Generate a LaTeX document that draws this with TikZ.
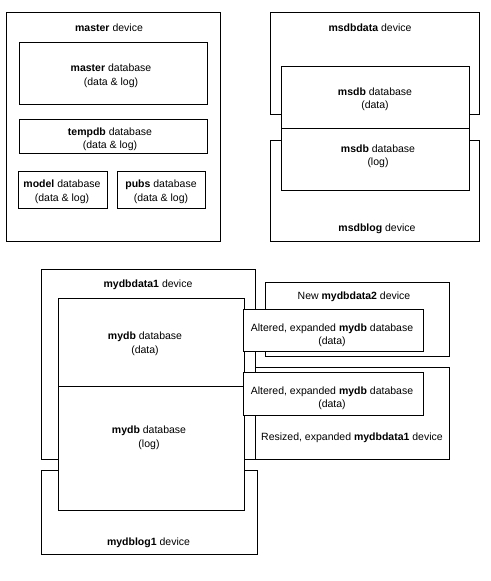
\documentclass[tikz,border=0pt]{standalone}
\usepackage{fontspec}
\setmainfont{Liberation Sans}
\begin{document}
\begin{tikzpicture}[x=1pt,y=-1pt,
  box/.style={draw=black,line width=1pt},
  wbox/.style={draw=black,fill=white,line width=1pt},
  lbl/.style={inner sep=0pt,align=center,font=\fontsize{10.5}{13.5}\selectfont,yshift=-2pt}]
\path[use as bounding box,fill=white] (0,0) rectangle (490,581);
% top left
\draw[box] (6,12) rectangle (220,241);
\draw[box] (19,42) rectangle (207,104);
\draw[box] (19,119) rectangle (207,153);
\draw[box] (18,171) rectangle (107,208);
\draw[box] (117,171) rectangle (205,208);
\node[lbl] (masterdev) at (109,26) {\textbf{master} device};
\node[lbl] (masterdb) at (111,74) {\textbf{master} database\\(data \& log)};
\node[lbl] (tempdb) at (110,137.5) {\textbf{tempdb} database\\(data \& log)};
\node[lbl] (model) at (62,190) {\textbf{model} database\\(data \& log)};
\node[lbl] (pubs) at (161,190) {\textbf{pubs} database\\(data \& log)};
% top right
\draw[box] (270,12) rectangle (479,114);
\draw[box] (270,140) rectangle (479,241);
\draw[wbox] (281,66) rectangle (469,128);
\draw[wbox] (281,128) rectangle (469,190);
\node[lbl] (msdbdatadev) at (370,26) {\textbf{msdbdata} device};
\node[lbl] (msdbdata) at (375,97.5) {\textbf{msdb} database\\(data)};
\node[lbl] (msdblog) at (378,154.5) {\textbf{msdb} database\\(log)};
\node[lbl] (msdblogdev) at (377,227) {\textbf{msdblog} device};
% bottom
\draw[box] (41,269) rectangle (255,459);
\draw[box] (41,470) rectangle (257,554);
\draw[box] (265,282) rectangle (449,356);
\draw[box] (255,367) rectangle (449,459);
\draw[wbox] (58,298) rectangle (244,386);
\draw[wbox] (58,386) rectangle (244,510);
\draw[wbox] (243,309) rectangle (423,351);
\draw[wbox] (243,372) rectangle (423,415);
\node[lbl] (mydbdata1dev) at (148,283) {\textbf{mydbdata1} device};
\node[lbl] (mydbdata) at (145,342) {\textbf{mydb} database\\(data)};
\node[lbl] (mydblog) at (149,436) {\textbf{mydb} database\\(log)};
\node[lbl] (mydblog1dev) at (148.5,541) {\textbf{mydblog1} device};
\node[lbl] (mydbdata2dev) at (354,295) {New \textbf{mydbdata2} device};
\node[lbl] (alt1) at (332,333.5) {Altered, expanded \textbf{mydb} database\\(data)};
\node[lbl] (alt2) at (332,396.5) {Altered, expanded \textbf{mydb} database\\(data)};
\node[lbl] (resized) at (352,436) {Resized, expanded \textbf{mydbdata1} device};
\end{tikzpicture}
\end{document}
